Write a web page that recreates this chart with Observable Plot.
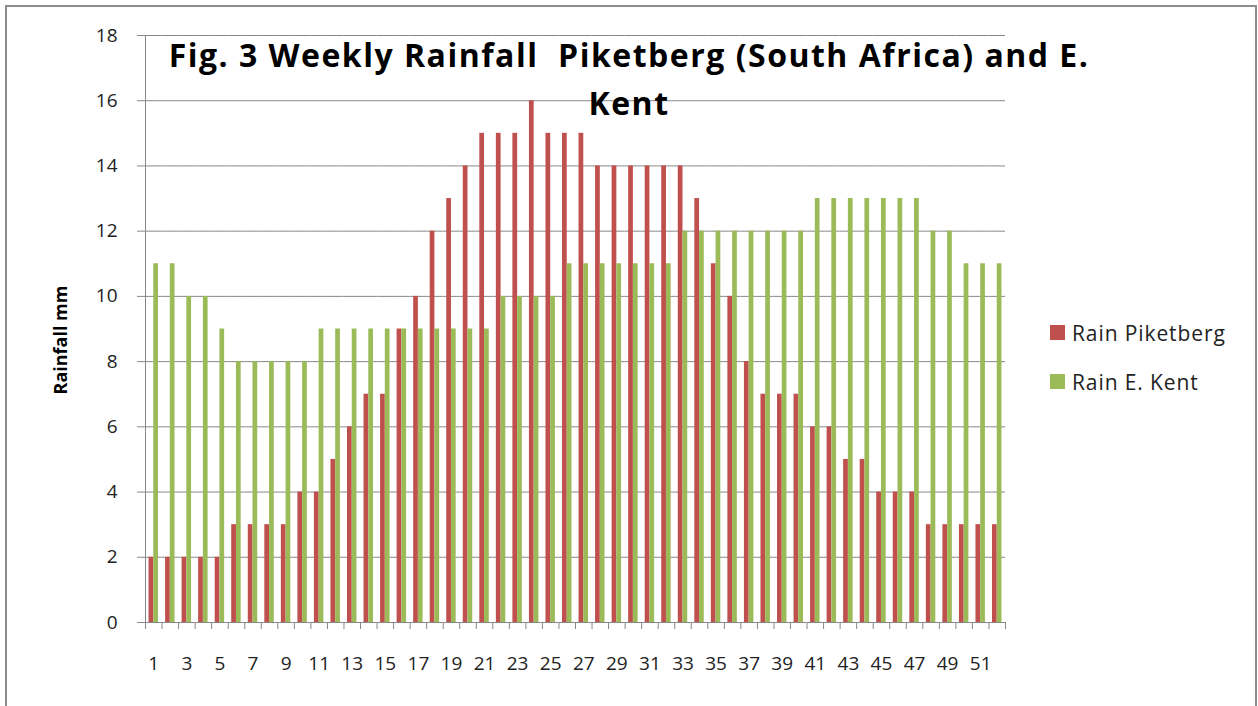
<!DOCTYPE html>
<html>
<head>
<meta charset="utf-8">
<script src="https://cdn.jsdelivr.net/npm/d3@7"></script>
<script src="https://cdn.jsdelivr.net/npm/@observablehq/plot@0.6"></script>
<style>
  html, body { margin: 0; padding: 0; background: #fff; overflow: hidden; }
  #wrap { position: relative; width: 1258px; height: 706px; font-family: "Open Sans", Lato, sans-serif; }
  #border { position: absolute; left: 5px; top: 5px; width: 1252px; height: 740px; box-sizing: border-box; border: 2px solid #8c8c8c; pointer-events: none; }
  #title { position: absolute; left: 0; top: 31px; width: 1258px; text-align: center; font-family: "Open Sans", sans-serif; font-weight: bold; font-size: 32px; letter-spacing: 1.5px; line-height: 48px; color: #000; white-space: pre; }
  #ylabel { position: absolute; left: 60px; top: 340px; transform: translate(-50%, -50%) rotate(-90deg); font-family: "Open Sans", sans-serif; font-weight: bold; font-size: 18px; color: #000; white-space: nowrap; }
  #legend { position: absolute; left: 1050px; top: 308px; font-size: 21px; letter-spacing: 0.9px; color: #222; }
  .item { display: flex; align-items: center; height: 49px; }
  .sw { width: 15px; height: 15px; margin-right: 7px; }
  svg { position: absolute; left: 0; top: 0; }
</style>
</head>
<body>
<div id="wrap">
  <div id="chart"></div>
  <div id="title"></div>
  <div id="ylabel"></div>
  <div id="legend"></div>
  <div id="border"></div>
</div>
<script>
const weeks = [1,2,3,4,5,6,7,8,9,10,11,12,13,14,15,16,17,18,19,20,21,22,23,24,25,26,27,28,29,30,31,32,33,34,35,36,37,38,39,40,41,42,43,44,45,46,47,48,49,50,51,52];
const rainPiketberg = [2,2,2,2,2,3,3,3,3,4,4,5,6,7,7,9,10,12,13,14,15,15,15,16,15,15,15,14,14,14,14,14,14,13,11,10,8,7,7,7,6,6,5,5,4,4,4,3,3,3,3,3];
const rainKent = [11,11,10,10,9,8,8,8,8,8,9,9,9,9,9,9,9,9,9,9,9,10,10,10,10,11,11,11,11,11,11,11,12,12,12,12,12,12,12,12,13,13,13,13,13,13,13,12,12,11,11,11];
const seriesNames = ["Rain Piketberg", "Rain E. Kent"];
const seriesColors = ["#C0504D", "#9BBB59"];
const yTicks = [0,2,4,6,8,10,12,14,16,18];
const xLabelTicks = weeks.filter(w => w % 2 === 1);
const titleLines = ["Fig. 3 Weekly Rainfall  Piketberg (South Africa) and E.", "Kent"];
const yLabel = "Rainfall mm";

const data = [];
weeks.forEach((w, i) => {
  data.push({week: w, series: seriesNames[0], value: rainPiketberg[i]});
  data.push({week: w, series: seriesNames[1], value: rainKent[i]});
});

const W = 1258, H = 706;
const mL = 145, mR = 253, mT = 35, mB = 84;
const step = (W - mL - mR) / weeks.length;
const gray = "#888888";
const font = "'Open Sans', Lato, sans-serif";

const chart = Plot.plot({
  width: W,
  height: H,
  marginLeft: mL,
  marginRight: mR,
  marginTop: mT,
  marginBottom: mB,
  style: {fontFamily: font, background: "transparent"},
  fx: {domain: weeks, padding: 0, round: false, label: null},
  x: {domain: seriesNames, paddingInner: 0, paddingOuter: 0.75, round: false, axis: null},
  y: {domain: [0, 18], label: null},
  color: {domain: seriesNames, range: seriesColors},
  marks: [
    Plot.ruleY(yTicks, {y: d => d, stroke: gray, strokeWidth: 1}),
    Plot.barY(data, {fx: "week", x: "series", y: "value", fill: "series"}),
    Plot.frame({anchor: "left", stroke: gray, facet: "super"}),
    Plot.axisY({ticks: yTicks, tickSize: 8, tickPadding: 20, fontSize: 19, fill: "#222", stroke: gray, label: null}),
    Plot.axisFx({anchor: "bottom", ticks: weeks, tickSize: 7, tickFormat: () => "", dx: -step / 2, stroke: gray, label: null}),
    Plot.axisFx({anchor: "bottom", ticks: [weeks[weeks.length - 1]], tickSize: 7, tickFormat: () => "", dx: step / 2, stroke: gray, label: null}),
    Plot.axisFx({anchor: "bottom", ticks: xLabelTicks, tickSize: 0, tickPadding: 34, fontSize: 19, fill: "#222", label: null})
  ]
});
document.getElementById("chart").appendChild(chart);

document.getElementById("title").innerHTML = titleLines.join("<br>");
document.getElementById("ylabel").textContent = yLabel;

const legend = document.getElementById("legend");
seriesNames.forEach((name, i) => {
  const it = document.createElement("div");
  it.className = "item";
  it.innerHTML = `<div class="sw" style="background:${seriesColors[i]}"></div><span>${name}</span>`;
  legend.appendChild(it);
});
</script>
</body>
</html>
